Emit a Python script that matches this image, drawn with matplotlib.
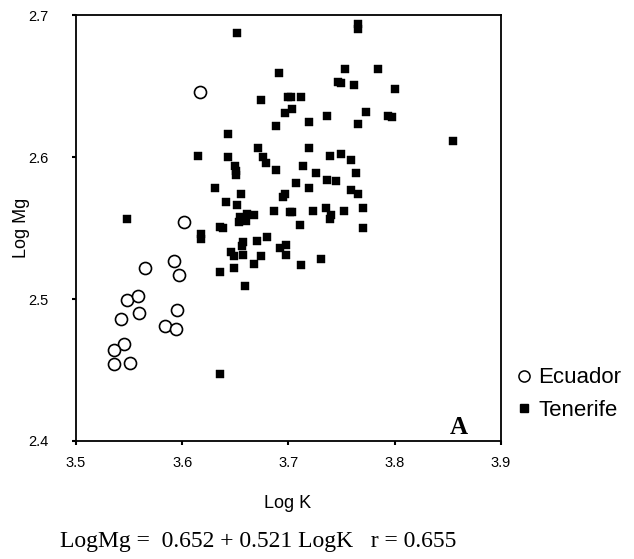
import matplotlib
matplotlib.use("Agg")
import matplotlib.pyplot as plt
from matplotlib.lines import Line2D

ecuador_logk = [3.617, 3.602, 3.565, 3.592, 3.597, 3.548, 3.558, 3.542, 3.559, 3.595,
                3.584, 3.594, 3.545, 3.536, 3.536, 3.551]
ecuador_logmg = [2.646, 2.554, 2.522, 2.527, 2.517, 2.499, 2.502, 2.486, 2.490, 2.492,
                 2.481, 2.479, 2.468, 2.464, 2.454, 2.455]

tenerife_logk = [3.652, 3.765, 3.765, 3.691, 3.674, 3.700, 3.697, 3.688, 3.643, 3.671,
                 3.615, 3.643, 3.676, 3.679, 3.650, 3.651, 3.651, 3.688, 3.631, 3.655,
                 3.641, 3.652, 3.695, 3.697, 3.686, 3.701, 3.654, 3.661, 3.668, 3.653,
                 3.660, 3.548, 3.636, 3.638, 3.618, 3.618, 3.753, 3.784, 3.747, 3.749,
                 3.762, 3.800, 3.702, 3.712, 3.703, 3.719, 3.736, 3.773, 3.794, 3.797,
                 3.765, 3.855, 3.719, 3.739, 3.749, 3.759, 3.714, 3.726, 3.764, 3.736,
                 3.745, 3.707, 3.719, 3.759, 3.765, 3.703, 3.723, 3.735, 3.740, 3.739,
                 3.752, 3.770, 3.711, 3.770, 3.657, 3.656, 3.670, 3.680, 3.646, 3.649,
                 3.657, 3.674, 3.668, 3.649, 3.636, 3.659, 3.692, 3.698, 3.698, 3.712,
                 3.731, 3.636]
tenerife_logmg = [2.687, 2.694, 2.690, 2.659, 2.640, 2.642, 2.631, 2.622, 2.616, 2.606,
                  2.601, 2.600, 2.600, 2.596, 2.594, 2.590, 2.587, 2.591, 2.578, 2.574,
                  2.568, 2.566, 2.572, 2.574, 2.562, 2.561, 2.558, 2.560, 2.559, 2.554,
                  2.555, 2.556, 2.551, 2.550, 2.546, 2.542, 2.662, 2.662, 2.653, 2.652,
                  2.651, 2.648, 2.642, 2.642, 2.634, 2.625, 2.629, 2.632, 2.629, 2.628,
                  2.623, 2.611, 2.606, 2.601, 2.602, 2.598, 2.594, 2.589, 2.589, 2.584,
                  2.583, 2.582, 2.578, 2.577, 2.574, 2.561, 2.562, 2.564, 2.559, 2.556,
                  2.562, 2.564, 2.552, 2.550, 2.540, 2.537, 2.541, 2.544, 2.533, 2.530,
                  2.531, 2.530, 2.525, 2.522, 2.519, 2.509, 2.536, 2.538, 2.531, 2.524,
                  2.528, 2.447]

x_ticks = [3.5, 3.6, 3.7, 3.8, 3.9]
y_ticks = [2.4, 2.5, 2.6, 2.7]
x_ticklabels = ["3.5", "3.6", "3.7", "3.8", "3.9"]
y_ticklabels = ["2.4", "2.5", "2.6", "2.7"]

sans = ["Liberation Sans", "DejaVu Sans"]
serif = ["Liberation Serif", "DejaVu Serif"]

fig = plt.figure(figsize=(6.34, 5.59), dpi=100)
ax = fig.add_axes([76/634, 1-441/559, (501-76)/634, (441-15)/559])

ax.scatter(ecuador_logk, ecuador_logmg, marker="o", s=75, facecolors="white",
           edgecolors="black", linewidths=1.2, zorder=3)
ax.scatter(tenerife_logk, tenerife_logmg, marker="s", s=26, facecolors="black",
           edgecolors="black", linewidths=0.3, zorder=3)

ax.set_xlim(3.5, 3.9)
ax.set_ylim(2.4, 2.7)
ax.set_xticks(x_ticks)
ax.set_yticks(y_ticks)
ax.set_xticklabels(x_ticklabels, fontfamily=sans, fontsize=10.5)
ax.set_yticklabels(y_ticklabels, fontfamily=sans, fontsize=10.5)
ax.tick_params(direction="out", length=3, width=1.5)
ax.tick_params(axis="x", pad=8)
ax.tick_params(axis="y", pad=17)
for s in ax.spines.values():
    s.set_linewidth(1.3)

ax.text(3.869, 2.405, "A", fontfamily=serif, fontweight="bold", fontsize=18,
        ha="right", va="baseline")

fig.text(288/634, 1-503/559, "Log K", fontfamily=sans, fontsize=13, ha="center", va="center")
fig.text(22/634, 1-228/559, "Log Mg", fontfamily=sans, fontsize=13, ha="center", va="center",
         rotation=90)
fig.text(60/634, 1-541/559, "LogMg =  0.652 + 0.521 LogK   r = 0.655", fontfamily=serif,
         fontsize=17, ha="left", va="center")

handles = [
    Line2D([], [], marker="o", linestyle="none", markersize=8, markerfacecolor="white",
           markeredgecolor="black", markeredgewidth=1.1),
    Line2D([], [], marker="s", linestyle="none", markersize=6, markerfacecolor="black",
           markeredgecolor="black"),
]
fig.legend(handles, ["Ecuador", "Tenerife"], loc="center left",
           bbox_to_anchor=(504/634, 1-394/559), frameon=False,
           prop={"family": sans, "size": 16}, handletextpad=0.15, labelspacing=0.5,
           handlelength=1.0, borderaxespad=0)

fig.savefig("out.png", dpi=100)
